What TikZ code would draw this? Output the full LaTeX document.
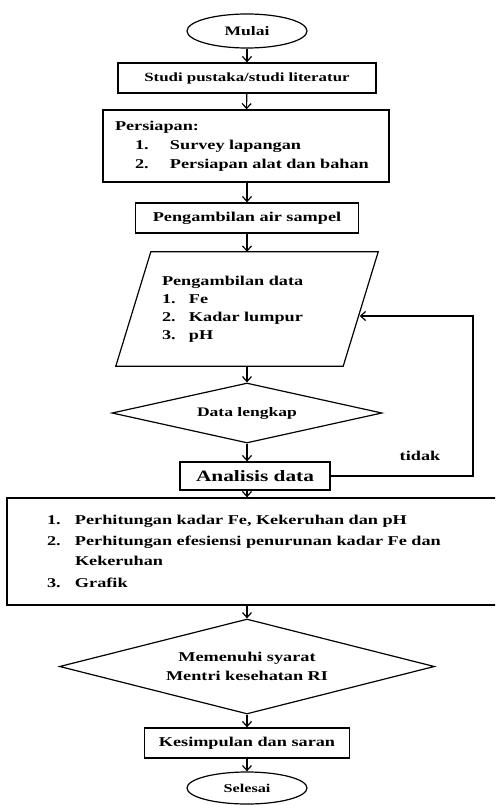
\documentclass[tikz,border=0pt]{standalone}
\usepackage{fontspec}
\setmainfont{Liberation Serif}[FakeStretch=1.35]
\usetikzlibrary{shapes.geometric, arrows.meta}

\tikzset{
  tulisan/.style={font=\bfseries\fontsize{13.5}{19}\selectfont},
  kotak/.style={draw, line width=1.3pt, rectangle, minimum height=30pt, inner sep=0pt},
  terminal/.style={draw, line width=1.2pt, ellipse, minimum width=120pt, minimum height=34pt, inner sep=0pt},
  keputusan/.style={draw, line width=1.2pt, diamond, aspect=4, inner sep=0pt},
  garis/.style={line width=1.2pt},
  panah/.style={-{Straight Barb[length=5pt,width=9pt]}, line width=1.2pt}
}

\begin{document}
\begin{tikzpicture}[x=1pt, y=-1pt, every node/.append style={tulisan}]
        % Page frame
        \clip (0,0) rectangle (495,805);

        % Start and first steps
        \node[terminal, font=\bfseries\fontsize{13}{16}\selectfont] (mulai) at (247,31) {Mulai}; % start
        \node[kotak, minimum width=258pt, font=\bfseries\fontsize{12.5}{16}\selectfont] (studi) at (247,78) {Studi pustaka/studi literatur};
        \node[kotak, minimum height=72pt, text width=262pt, inner xsep=12pt, align=left] (persiapan) at (246,146)
          {Persiapan:\\
           \hspace*{20pt}\makebox[35pt][l]{1.}Survey lapangan\\
           \hspace*{20pt}\makebox[35pt][l]{2.}Persiapan alat dan bahan};
        \node[kotak, minimum width=223pt] (sampel) at (247,218) {Pengambilan air sampel};

        % Data input (parallelogram) and check
        \node[minimum width=227pt, minimum height=114pt, inner sep=0pt, text width=170pt, align=left, font=\bfseries\fontsize{13.5}{18}\selectfont] (data) at (247,309)
          {Pengambilan data\\
           \makebox[27pt][l]{1.}Fe\\
           \makebox[27pt][l]{2.}Kadar lumpur\\
           \makebox[27pt][l]{3.}pH};
        \draw[garis] ([xshift=17.5pt]data.north west) -- ([xshift=17.5pt]data.north east)
          -- ([xshift=-17.5pt]data.south east) -- ([xshift=-17.5pt]data.south west) -- cycle; % slanted sides
        \node[keputusan, minimum width=270pt, minimum height=60pt, font=\bfseries\fontsize{13}{16}\selectfont] (lengkap) at (247,413) {Data lengkap};
        \node[kotak, minimum width=150pt, minimum height=28pt, font=\bfseries\fontsize{15.8}{19}\selectfont] (analisis) at (255,476) {Analisis data};
        \node (tidak) at (420,456) {tidak}; % label of the loop back

        % Calculations
        \node[kotak, minimum height=107pt, text width=410pt, inner xsep=40pt, align=left, font=\bfseries\fontsize{13.5}{20}\selectfont] (hitung) at (252,551.5)
          {\makebox[28pt][l]{1.}Perhitungan kadar Fe, Kekeruhan dan pH\\[1pt]
           \makebox[28pt][l]{2.}Perhitungan efesiensi penurunan kadar Fe dan\\
           \hspace*{28pt}Kekeruhan\\[2pt]
           \makebox[28pt][l]{3.}Grafik\par\vspace*{10pt}};

        % Final check and end
        \node[keputusan, minimum width=375pt, minimum height=95pt, align=center] (syarat) at (247,666.5) {Memenuhi syarat\\Mentri kesehatan RI};
        \node[kotak, minimum width=205pt] (kesimpulan) at (247,743) {Kesimpulan dan saran};
        \node[terminal, minimum height=32pt, font=\bfseries\fontsize{12}{15}\selectfont] (selesai) at (247,788) {Selesai}; % end

        % Arrows
        \draw[panah] (mulai) -- (studi);
        \draw[panah] (studi) -- (persiapan);
        \draw[panah] (persiapan.south -| sampel) -- (sampel);
        \draw[panah] (sampel) -- (data);
        \draw[panah] (data) -- (lengkap);
        \draw[panah] (lengkap.south) -- (lengkap.south |- analisis.north);
        \draw[panah] (analisis.south -| lengkap) -- (lengkap |- hitung.north);
        \draw[panah] (hitung.south -| syarat) -- (syarat);
        \draw[panah] (syarat) -- (kesimpulan);
        \draw[panah] (kesimpulan) -- (selesai);

        % Loop back when data is not complete
        \coordinate (balik) at (473,316);
        \draw[panah] (analisis.east) -| (balik) -- ([xshift=-1pt]data.east |- balik); % back to data
\end{tikzpicture}
\end{document}
